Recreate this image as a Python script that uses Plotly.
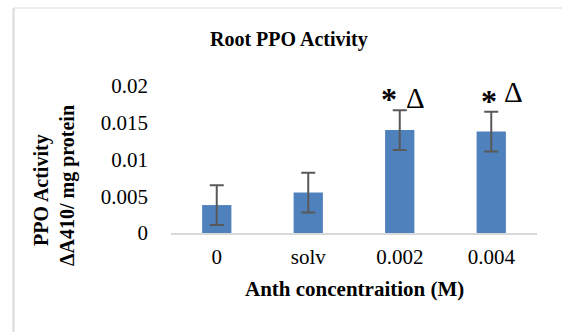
import plotly.graph_objects as go

categories = ["0", "solv", "0.002", "0.004"]
values = [0.0038, 0.0055, 0.0140, 0.0138]
errors = [0.0027, 0.0027, 0.0027, 0.0027]
y_ticks = [0, 0.005, 0.01, 0.015, 0.02]
y_tick_labels = ["0", "0.005", "0.01", "0.015", "0.02"]

FONT = "Liberation Serif"
W, H = 562, 332
L, R, T, B = 171, 25, 86, 99
PW, PH = W - L - R, H - T - B

def px(x):
    return (x - L) / PW

def py(y):
    return (H - B - y) / PH

fig = go.Figure()
fig.add_trace(go.Bar(
    x=categories, y=values,
    marker=dict(color="#4F81BD", line=dict(width=0)),
    error_y=dict(type="data", array=errors, visible=True,
                 color="#595959", thickness=2, width=7),
))

fig.update_layout(
    width=W, height=H,
    margin=dict(l=L, r=R, t=T, b=B, pad=0),
    paper_bgcolor="white", plot_bgcolor="white",
    bargap=0.68,
    showlegend=False,
    font=dict(family=FONT, size=21, color="#000000"),
    xaxis=dict(showline=True, linecolor="#D9D9D9", linewidth=2,
               showgrid=False, ticks="", ticklabelstandoff=4,
               tickfont=dict(family=FONT, size=21, color="#000")),
    yaxis=dict(range=[0, 0.02], tickvals=y_ticks, ticktext=y_tick_labels,
               showgrid=False, zeroline=False, showline=False, ticks="",
               ticklabelstandoff=22,
               tickfont=dict(family=FONT, size=21, color="#000")),
)

ann = []
# title
ann.append(dict(text="<b>Root PPO Activity</b>", x=px(289), y=py(39),
                xref="paper", yref="paper", showarrow=False,
                xanchor="center", yanchor="middle",
                font=dict(family=FONT, size=20)))
# x title
ann.append(dict(text="<b>Anth concentraition (M)</b>", x=px(354), y=py(289),
                xref="paper", yref="paper", showarrow=False,
                xanchor="center", yanchor="middle",
                font=dict(family=FONT, size=21)))
# y title lines
ann.append(dict(text="<b>PPO Activity</b>", x=px(41), y=py(190),
                xref="paper", yref="paper", showarrow=False, textangle=-90,
                xanchor="center", yanchor="middle",
                font=dict(family=FONT, size=20)))
ann.append(dict(text="<b>\u0394A410/ mg protein</b>", x=px(67), y=py(186),
                xref="paper", yref="paper", showarrow=False, textangle=-90,
                xanchor="center", yanchor="middle",
                font=dict(family=FONT, size=20)))
# significance marks
marks = [(388.7, 99, "*"), (415.5, 97.5, "\u0394"),
         (488.7, 101, "*"), (513, 91.7, "\u0394")]
for mx, my, t in marks:
    txt = "<b>*</b>" if t == "*" else t
    ann.append(dict(text=txt, x=px(mx), y=py(my), xref="paper", yref="paper",
                    showarrow=False, xanchor="center", yanchor="middle",
                    font=dict(family=FONT, size=32 if t == "*" else 29)))
fig.update_layout(annotations=ann)

# chart border (left and top edges visible)
fig.add_shape(type="line", xref="paper", yref="paper",
              x0=px(13.5), x1=px(13.5), y0=py(8), y1=py(400),
              line=dict(color="#D9D9D9", width=2))
fig.add_shape(type="line", xref="paper", yref="paper",
              x0=px(13.5), x1=px(700), y0=py(8), y1=py(8),
              line=dict(color="#D9D9D9", width=1))

fig.write_html("out.html")
